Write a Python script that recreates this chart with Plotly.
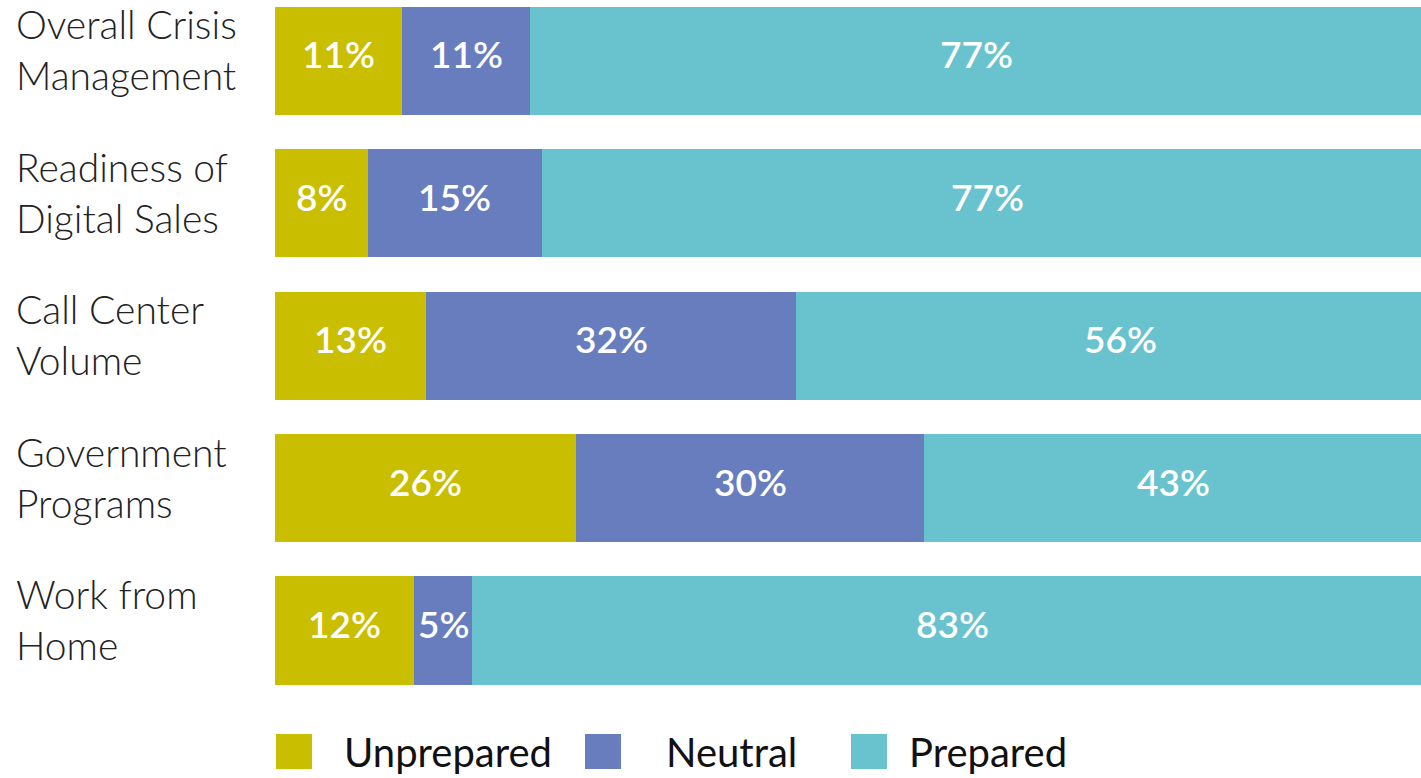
import plotly.graph_objects as go

# Survey responses, share of respondents (%)
categories = [
    "Overall Crisis<br>Management",
    "Readiness of<br>Digital Sales",
    "Call Center<br>Volume",
    "Government<br>Programs",
    "Work from<br>Home",
]
unprepared = [11, 8, 13, 26, 12]
neutral = [11, 15, 32, 30, 5]
prepared = [77, 77, 56, 43, 83]

series_names = ["Unprepared", "Neutral", "Prepared"]
series_values = [unprepared, neutral, prepared]
series_colors = ["#C9BE00", "#687DBE", "#68C3CE"]

W, H = 1421, 778
M_L, M_R, M_T, M_B = 275, 0, 0, 68
PLOT_W = W - M_L - M_R
PLOT_H = H - M_T - M_B
FONT = "Lato"

y_idx = list(range(len(categories)))

fig = go.Figure()
for name, vals, col in zip(series_names, series_values, series_colors):
    fig.add_trace(go.Bar(
        name=name,
        x=vals,
        y=y_idx,
        orientation="h",
        marker=dict(color=col, line=dict(width=0)),
        hoverinfo="skip",
        showlegend=False,
    ))


def px_x(p):
    return (p - M_L) / PLOT_W


def px_y(p):
    return (M_T + PLOT_H - p) / PLOT_H


annotations = []

# Value labels centred on each segment, sitting slightly above the middle
for i in y_idx:
    start = 0
    for vals in series_values:
        v = vals[i]
        annotations.append(dict(
            x=start + v / 2, xref="x", xanchor="center",
            y=i, yref="y", yanchor="middle", yshift=7,
            text=f"{v}%", showarrow=False,
            font=dict(family=FONT, size=37, color="white", weight=600),
        ))
        start += v

# Category labels, left aligned in the left margin
for i, cat in enumerate(categories):
    annotations.append(dict(
        x=px_x(14), xref="paper", xanchor="left",
        y=i, yref="y", yanchor="middle", yshift=11,
        text=cat, showarrow=False, align="left",
        font=dict(family=FONT, size=39, color="#222222", weight=300),
    ))

# Legend drawn below the bars with large swatches
legend_sw = [(276, 312), (585, 621), (851, 887)]
legend_tx = [342, 664, 907]
sw_top, sw_bot = 734, 769
shapes = []
for (x0, x1), tx, name, col in zip(legend_sw, legend_tx, series_names, series_colors):
    shapes.append(dict(
        type="rect", xref="paper", yref="paper",
        x0=px_x(x0), x1=px_x(x1), y0=px_y(sw_bot), y1=px_y(sw_top),
        fillcolor=col, line=dict(width=0), layer="above",
    ))
    annotations.append(dict(
        x=px_x(tx), xref="paper", xanchor="left",
        y=px_y((sw_top + sw_bot) / 2), yref="paper", yanchor="middle",
        text=name, showarrow=False,
        font=dict(family=FONT, size=40, color="#111111"),
    ))

fig.update_layout(
    width=W, height=H,
    margin=dict(l=M_L, r=M_R, t=M_T, b=M_B, pad=0),
    barmode="stack",
    bargap=0.24,
    plot_bgcolor="white",
    paper_bgcolor="white",
    xaxis=dict(range=[0, 98.9], visible=False, fixedrange=True),
    yaxis=dict(range=[-0.428 + PLOT_H / 142.4, -0.428], visible=False,
               fixedrange=True),
    annotations=annotations,
    shapes=shapes,
    font=dict(family=FONT),
)

fig.write_html("out.html", config={"displayModeBar": False})
